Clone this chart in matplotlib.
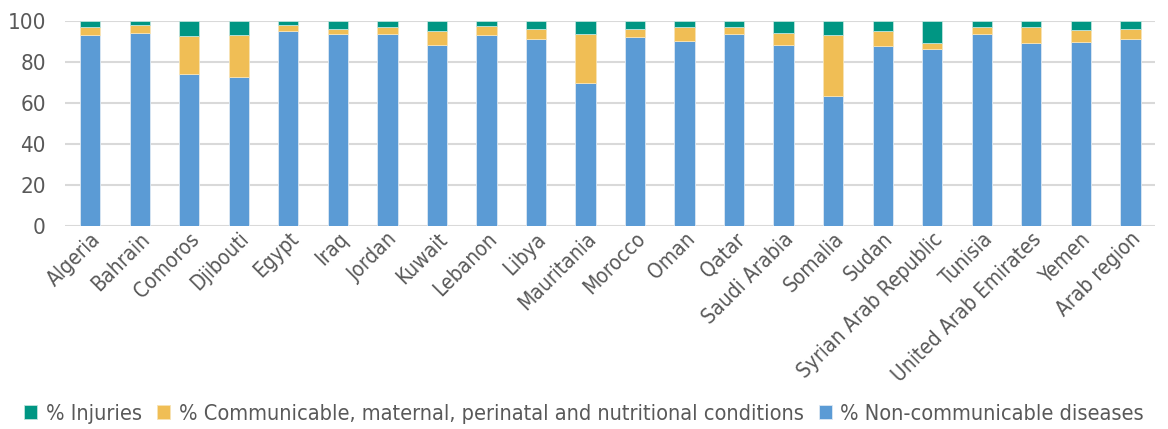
import matplotlib
matplotlib.use("Agg")
import matplotlib.pyplot as plt
import numpy as np

countries = ["Algeria", "Bahrain", "Comoros", "Djibouti", "Egypt", "Iraq", "Jordan",
             "Kuwait", "Lebanon", "Libya", "Mauritania", "Morocco", "Oman", "Qatar",
             "Saudi Arabia", "Somalia", "Sudan", "Syrian Arab Republic", "Tunisia",
             "United Arab Emirates", "Yemen", "Arab region"]
ncd = [93.3, 94.5, 74.4, 73.0, 95.3, 94.0, 94.0, 88.6, 93.3, 91.4, 69.7, 92.5,
       90.6, 94.0, 88.6, 63.7, 88.1, 86.5, 94.0, 89.4, 90.1, 91.4]
communicable = [3.9, 4.0, 18.3, 20.5, 3.2, 2.1, 3.2, 6.7, 4.6, 5.0, 24.4, 3.9,
                6.6, 3.2, 6.0, 29.6, 7.2, 2.9, 3.2, 7.8, 5.8, 5.0]
injuries = [2.8, 1.5, 7.3, 6.5, 1.5, 3.9, 2.8, 4.7, 2.1, 3.6, 5.9, 3.6,
            2.8, 2.8, 5.4, 6.7, 4.7, 10.6, 2.8, 2.8, 4.1, 3.6]

c_ncd = "#5B9BD5"
c_com = "#F0BE55"
c_inj = "#009683"
txt = "#595959"

plt.rcParams['font.family'] = ['DejaVu Sans']
plt.rcParams['font.stretch'] = 'condensed'

fig = plt.figure(figsize=(11.68, 4.29), dpi=100)
ax = fig.add_axes([0.056, 0.473, 0.933, 0.477])

x = np.arange(len(countries))
ncd = np.array(ncd)
communicable = np.array(communicable)
injuries = np.array(injuries)
w = 0.41
b1 = ax.bar(x, ncd, w, color=c_ncd, edgecolor="#DDE8F3", linewidth=0.6, zorder=3)
b2 = ax.bar(x, communicable, w, bottom=ncd, color=c_com, edgecolor="#F7E3B5", linewidth=0.6, zorder=3)
b3 = ax.bar(x, injuries, w, bottom=ncd + communicable, color=c_inj, edgecolor="#BFE3DC", linewidth=0.6, zorder=3)

ax.set_xlim(-0.5, len(countries) - 0.5)
ax.set_ylim(0, 100)
ax.set_yticks([0, 20, 40, 60, 80, 100])
ax.yaxis.grid(True, color="#D9D9D9", linewidth=1.5, zorder=0)
ax.tick_params(axis="y", length=0, labelsize=16, labelcolor=txt, pad=14)
ax.tick_params(axis="x", length=0, labelsize=15, labelcolor=txt, pad=2)
ax.set_xticks(x)
ax.set_xticklabels(countries, rotation=45, ha="right", rotation_mode="anchor")
for s in ax.spines.values():
    s.set_visible(False)

fig.legend([b3, b2, b1],
           ["% Injuries", "% Communicable, maternal, perinatal and nutritional conditions",
            "% Non-communicable diseases"],
           loc="center", bbox_to_anchor=(0.5, 0.035), ncol=3, frameon=False,
           fontsize=15.6, handlelength=0.6, handleheight=0.6, handletextpad=0.4,
           columnspacing=0.7, labelcolor=txt)

fig.savefig("out.png", dpi=100)
